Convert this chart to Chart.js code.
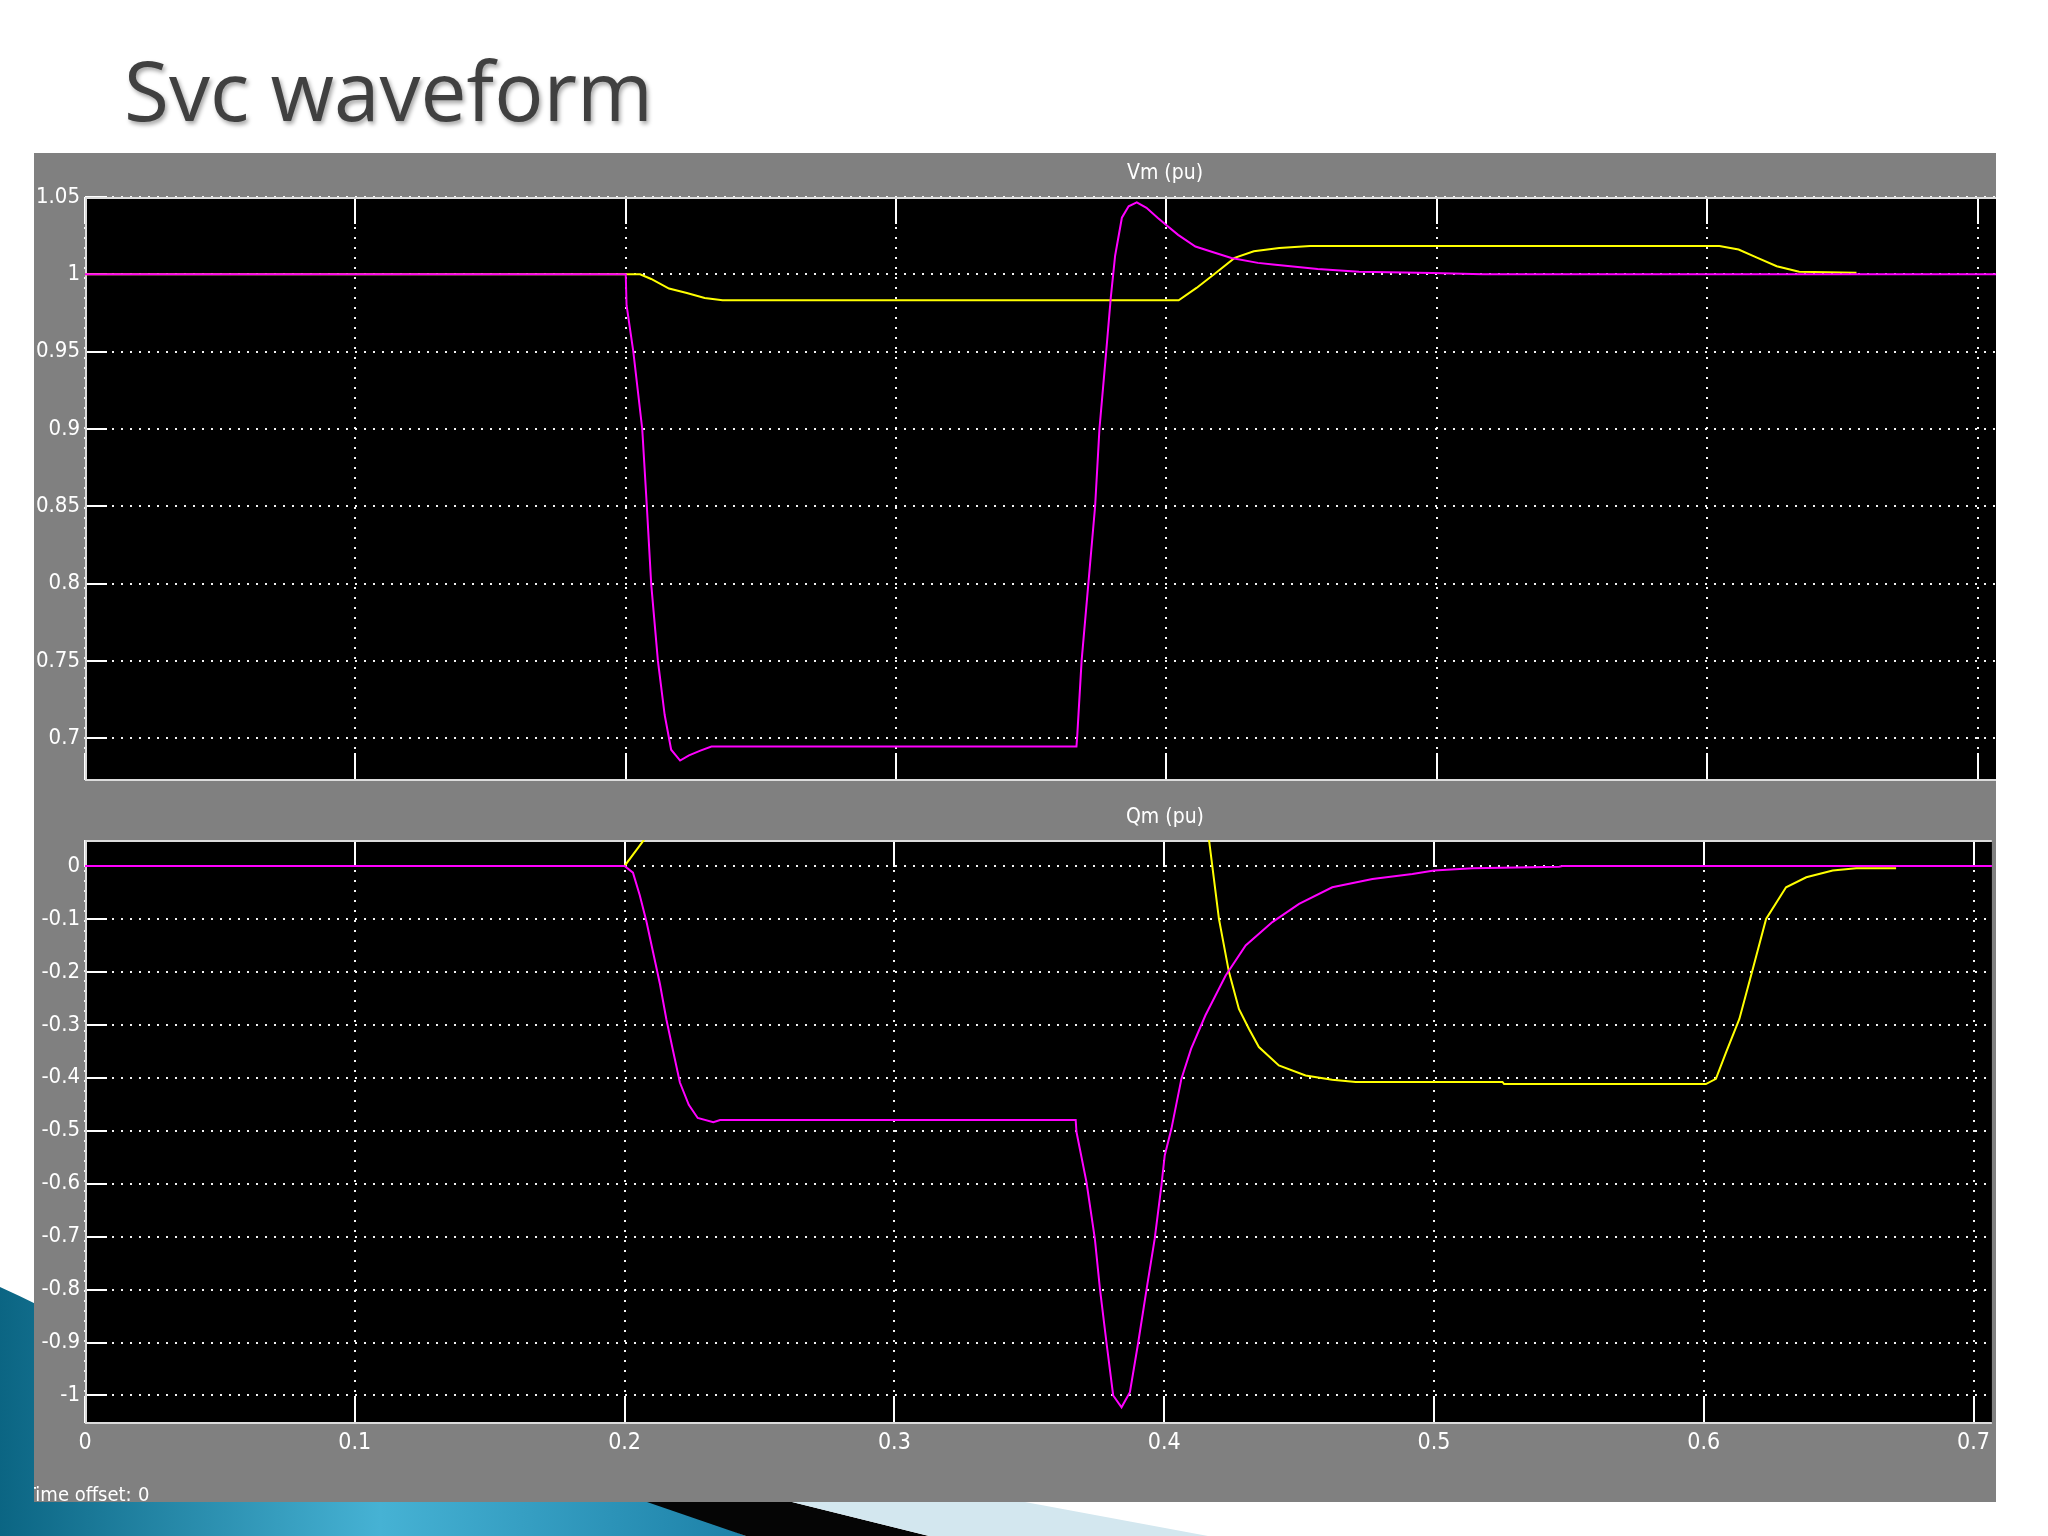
<!DOCTYPE html>
<html>
<head>
<meta charset="utf-8">
<title>Svc waveform</title>
<script src="https://cdn.jsdelivr.net/npm/chart.js@4.4.1/dist/chart.umd.min.js"></script>
<style>
  html, body { margin: 0; padding: 0; background: #fff; }
  body { width: 2048px; height: 1536px; position: relative; overflow: hidden; }
  #deco { position: absolute; left: 0; top: 0; }
  h1 {
    position: absolute; left: 124px; top: 48px; margin: 0;
    font-family: "Open Sans", sans-serif; font-weight: 400;
    font-size: 82px; line-height: 82px; color: #404040;
    text-shadow: 2px 3px 4px rgba(0, 0, 0, 0.35);
  }
  #panel { position: absolute; left: 34px; top: 153px; width: 1962px; height: 1349px; background: #808080; }
  #panel canvas { position: absolute; left: 0; }
  #vm { top: 0; }
  #qm { top: 647px; }
</style>
</head>
<body>
<svg id="deco" width="2048" height="1536">
  <defs>
    <linearGradient id="blue" x1="0" y1="0" x2="760" y2="0" gradientUnits="userSpaceOnUse">
      <stop offset="0" stop-color="#0b6583"/>
      <stop offset="0.5" stop-color="#46b2d4"/>
      <stop offset="1" stop-color="#1b7fa6"/>
    </linearGradient>
  </defs>
  <path d="M0,1287 Q20,1296 40,1306 L660,1502 L746,1536 L0,1536 Z" fill="url(#blue)"/>
  <polygon points="647,1502 792,1502 929,1536 746,1536" fill="#050505"/>
  <polygon points="792,1502 1025,1502 1208,1536 929,1536" fill="#d3e7ef"/>
</svg>

<h1>Svc waveform</h1>

<div id="panel">
  <canvas id="vm" width="1962" height="647"></canvas>
  <canvas id="qm" width="1962" height="702"></canvas>
</div>

<script>
// axes
const timeTicks = [0, 0.1, 0.2, 0.3, 0.4, 0.5, 0.6, 0.7];
const timeLabels = ['0', '0.1', '0.2', '0.3', '0.4', '0.5', '0.6', '0.7'];
const vmTicks = [0.7, 0.75, 0.8, 0.85, 0.9, 0.95, 1, 1.05];
const vmLabels = ['0.7', '0.75', '0.8', '0.85', '0.9', '0.95', '1', '1.05'];
const qmTicks = [-1, -0.9, -0.8, -0.7, -0.6, -0.5, -0.4, -0.3, -0.2, -0.1, 0];
const qmLabels = ['-1', '-0.9', '-0.8', '-0.7', '-0.6', '-0.5', '-0.4', '-0.3', '-0.2', '-0.1', '0'];

// Vm (pu) - trace magenta
const vmPinkT = [0, 0.2, 0.2003, 0.2028, 0.2061, 0.2078, 0.2094, 0.2119, 0.2144, 0.2168, 0.2201, 0.2234, 0.2276, 0.2317,
  0.3667, 0.367, 0.3686, 0.3711, 0.3736, 0.3752, 0.3777, 0.3794, 0.381, 0.3835, 0.386, 0.389, 0.3926, 0.3967,
  0.4, 0.4043, 0.4107, 0.417, 0.424, 0.4338, 0.4394, 0.4559, 0.4712, 0.4983, 0.517, 0.7068];
const vmPinkV = [1, 1, 0.98, 0.95, 0.9, 0.85, 0.8, 0.75, 0.715, 0.6926, 0.6856, 0.6889, 0.692, 0.6946,
  0.6946, 0.702, 0.75, 0.8, 0.85, 0.9, 0.95, 0.985, 1.012, 1.0366, 1.044, 1.0465, 1.043, 1.0366,
  1.0317, 1.0255, 1.018, 1.0144, 1.0106, 1.0074, 1.0063, 1.0034, 1.0017, 1.0009, 1, 1];

// Vm (pu) - trace jaune
const vmYellowT = [0, 0.2, 0.2053, 0.2094, 0.216, 0.2226, 0.2292, 0.2358, 0.4045, 0.4111, 0.4182, 0.4252, 0.4323,
  0.4417, 0.4531, 0.6045, 0.6116, 0.6186, 0.6257, 0.634, 0.6552];
const vmYellowV = [1, 1, 1, 0.997, 0.9908, 0.9879, 0.9847, 0.9832, 0.9832, 0.9912, 1.0009, 1.0106, 1.0149,
  1.017, 1.0183, 1.0183, 1.016, 1.0106, 1.0052, 1.0017, 1.001];

// Qm (pu) - trace magenta
const qmPinkT = [0, 0.2, 0.2031, 0.2056, 0.2081, 0.2106, 0.2131, 0.2155, 0.218, 0.2205, 0.2238, 0.2271, 0.2329, 0.2354,
  0.3672, 0.3675, 0.3712, 0.3743, 0.3762, 0.3786, 0.3811, 0.3842, 0.3873, 0.3904, 0.3935, 0.3965, 0.399,
  0.4002, 0.4027, 0.4064, 0.41, 0.4153, 0.4228, 0.4302, 0.4401, 0.45, 0.4623, 0.4772, 0.492, 0.5, 0.5143,
  0.5464, 0.5476, 0.7068];
const qmPinkV = [0, 0, -0.0126, -0.055, -0.105, -0.164, -0.223, -0.29, -0.35, -0.409, -0.451, -0.476, -0.484, -0.48,
  -0.48, -0.5025, -0.597, -0.704, -0.799, -0.8995, -1, -1.0224, -0.994, -0.8995, -0.7987, -0.704, -0.603,
  -0.5466, -0.496, -0.4017, -0.345, -0.282, -0.207, -0.15, -0.106, -0.0717, -0.0403, -0.0245, -0.0151, -0.0088, -0.0044,
  -0.0013, 0, 0];

// Qm (pu) - trace jaune (hors cadre entre 0.207 et 0.416)
const qmYellowT = [0, 0.2, 0.2073, 0.21, 0.215, 0.22, 0.225, 0.235, 0.3672, 0.372, 0.38, 0.39, 0.4, 0.41, 0.4166,
  0.4203, 0.424, 0.4277, 0.4314, 0.4351, 0.4425, 0.4524, 0.4623, 0.471, 0.5254, 0.526, 0.6008, 0.6045,
  0.6083, 0.6132, 0.6182, 0.6231, 0.6305, 0.638, 0.6478, 0.6565, 0.6713];
const qmYellowV = [0, 0, 0.05, 0.1, 0.25, 0.4, 0.46, 0.48, 0.48, 0.55, 0.8, 1, 0.7, 0.3, 0.05,
  -0.1, -0.2, -0.27, -0.3075, -0.342, -0.3767, -0.3956, -0.4038, -0.408, -0.408, -0.412, -0.412, -0.402,
  -0.3516, -0.289, -0.194, -0.1, -0.0403, -0.0214, -0.0088, -0.0044, -0.0044];

const scopeFont = '"Liberation Sans Narrow", "DejaVu Sans Condensed", sans-serif';

let toPoints = function (t, v) {
    return t.map((x, i) => ({ x: x, y: v[i] }));
}

// fond noir, ticks internes, cadre et titres facon scope
let scopePlugin = {
    id: 'scope',
    beforeDraw(chart) {
        const a = chart.chartArea, c = chart.ctx;
        c.save();
        c.fillStyle = '#000';
        c.fillRect(a.left, a.top, a.right - a.left, a.bottom - a.top);
        c.restore();
    },
    beforeDatasetsDraw(chart, args, opts) {
        const a = chart.chartArea, c = chart.ctx;
        const xs = chart.scales.x, ys = chart.scales.y;
        c.save();
        c.strokeStyle = '#ffffff';
        c.lineWidth = 2;
        c.beginPath();
        for (let t of xs.ticks) {
            let px = Math.round(xs.getPixelForValue(t.value));
            c.moveTo(px, a.top); c.lineTo(px, a.top + 27);
            c.moveTo(px, a.bottom); c.lineTo(px, a.bottom - 27);
        }
        for (let t of ys.ticks) {
            let py = Math.round(ys.getPixelForValue(t.value));
            c.moveTo(a.left, py); c.lineTo(a.left + 22, py);
        }
        c.stroke();

        c.strokeStyle = '#dcdcdc';
        c.beginPath();
        c.moveTo(a.left + 1, a.bottom); c.lineTo(a.left + 1, a.top + 1); c.lineTo(a.right, a.top + 1);
        c.moveTo(a.left, a.bottom); c.lineTo(a.right, a.bottom);
        c.stroke();

        c.fillStyle = '#ffffff';
        c.font = '21px ' + scopeFont;
        c.textAlign = 'center';
        c.textBaseline = 'middle';
        c.fillText(opts.title, opts.titleX, opts.titleY);
        if (opts.footer) {
            c.font = '20px ' + scopeFont;
            c.textAlign = 'left';
            c.textBaseline = 'alphabetic';
            c.fillText(opts.footer, -9, 701);
            c.fillText('0', 104, 701);
        }
        c.restore();
    }
};

let createScope = function (id, title, titleY, series, yTicks, yLabels, yMin, yMax, xHeight, showX, footer) {
    const ctx = document.getElementById(id);

    new Chart(ctx, {
        type: 'line',
        data: {
            datasets: series.map(s => ({
                data: toPoints(s.t, s.v),
                borderColor: s.color,
                borderWidth: 2,
                pointRadius: 0,
                tension: 0,
                fill: false
            }))
        },
        options: {
            responsive: false,
            animation: false,
            events: [],
            layout: { padding: { top: id === 'vm' ? 44 : 40, right: 0, bottom: 0, left: 0 } },
            plugins: {
                legend: { display: false },
                tooltip: { enabled: false },
                scope: { title: title, titleX: 1131, titleY: titleY, footer: footer }
            },
            scales: {
                x: {
                    type: 'linear',
                    min: 0,
                    max: 0.7068,
                    afterBuildTicks: s => { s.ticks = timeTicks.map(v => ({ value: v })); },
                    afterFit: s => { s.height = xHeight; },
                    grid: { color: 'rgba(255,255,255,0.95)', lineWidth: 2, drawTicks: false },
                    border: { display: false, dash: [2, 8] },
                    ticks: {
                        display: showX,
                        color: '#ffffff',
                        padding: 6,
                        maxRotation: 0,
                        font: { family: scopeFont, size: 23 },
                        callback: (v, i) => timeLabels[i]
                    }
                },
                y: {
                    type: 'linear',
                    min: yMin,
                    max: yMax,
                    afterBuildTicks: s => { s.ticks = yTicks.map(v => ({ value: v })); },
                    afterFit: s => { s.width = 51; },
                    grid: { color: 'rgba(255,255,255,0.95)', lineWidth: 2, drawTicks: false },
                    border: { display: false, dash: [2, 7] },
                    ticks: {
                        color: '#ffffff',
                        padding: 5,
                        font: { family: scopeFont, size: 22 },
                        callback: (v, i) => yLabels[i]
                    }
                }
            }
        },
        plugins: [scopePlugin]
    });
}

createScope('vm', 'Vm (pu)', 21, [
    { t: vmPinkT, v: vmPinkV, color: '#ff00ff' },
    { t: vmYellowT, v: vmYellowV, color: '#ffff00' }
], vmTicks, vmLabels, 0.673, 1.05, 20, false, null);

createScope('qm', 'Qm (pu)', 18, [
    { t: qmPinkT, v: qmPinkV, color: '#ff00ff' },
    { t: qmYellowT, v: qmYellowV, color: '#ffff00' }
], qmTicks, qmLabels, -1.052, 0.049, 79, true, 'Time offset:');
</script>
</body>
</html>
